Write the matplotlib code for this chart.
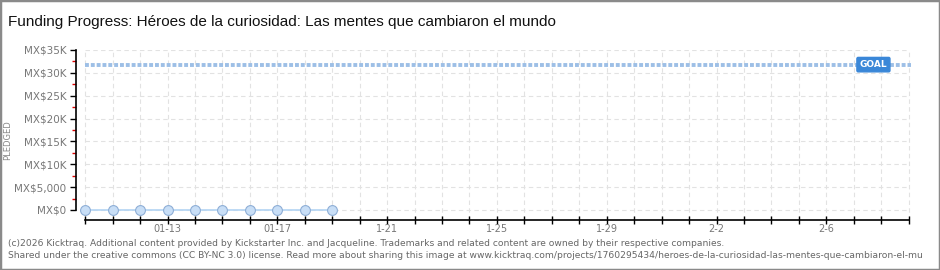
import matplotlib
matplotlib.use('Agg')
import matplotlib.pyplot as plt
import matplotlib.dates as mdates
import matplotlib.patches as mpatches
import matplotlib.transforms as mtransforms
import pandas as pd

# data
dates = ['2026-01-10', '2026-01-11', '2026-01-12', '2026-01-13', '2026-01-14',
         '2026-01-15', '2026-01-16', '2026-01-17', '2026-01-18', '2026-01-19']
pledged = [0, 0, 0, 0, 0, 0, 0, 0, 0, 0]
goal = 31800
axis_start = '2026-01-10'
axis_end = '2026-02-09'
label_dates = ['2026-01-13', '2026-01-17', '2026-01-21', '2026-01-25',
               '2026-01-29', '2026-02-02', '2026-02-06']
label_texts = ['01-13', '01-17', '1-21', '1-25', '1-29', '2-2', '2-6']
ytick_vals = [0, 5000, 10000, 15000, 20000, 25000, 30000, 35000]
ytick_texts = ['MX$0', 'MX$5,000', 'MX$10K', 'MX$15K', 'MX$20K', 'MX$25K', 'MX$30K', 'MX$35K']

title = 'Funding Progress: Héroes de la curiosidad: Las mentes que cambiaron el mundo'
footer1 = ('(c)2026 Kicktraq. Additional content provided by Kickstarter Inc. and Jacqueline. '
           'Trademarks and related content are owned by their respective companies.')
footer2 = ('Shared under the creative commons (CC BY-NC 3.0) license. Read more about sharing this image at '
           'www.kicktraq.com/projects/1760295434/heroes-de-la-curiosidad-las-mentes-que-cambiaron-el-mu')

#==============================================================================
x = pd.to_datetime(dates)
x0 = pd.to_datetime(axis_start)
x1 = pd.to_datetime(axis_end)
all_days = pd.date_range(x0, x1, freq='D')

fig = plt.figure(figsize=(9.4, 2.7), dpi=100)
fig.patch.set_facecolor('white')
ax = fig.add_axes([76 / 940, 50 / 270, (911 - 76) / 940, 170 / 270])

ax.set_xlim(x0 - pd.Timedelta(hours=8), x1 + pd.Timedelta(hours=2))
ax.set_ylim(-2200, 35000)

# grid
for d in all_days:
    ax.axvline(d, color='#e2e2e2', lw=0.8, ls=(0, (4, 3)), zorder=0)
for v in ytick_vals:
    ax.plot([x0, x1], [v, v], color='#e2e2e2', lw=0.8, ls=(0, (4, 3)), zorder=0)

# goal line
ax.plot([x0, x1 + pd.Timedelta(hours=2)], [goal, goal], color='#9dbfe6', lw=2.8,
        ls=(0, (1.0, 0.5)), zorder=2)
trans = mtransforms.blended_transform_factory(ax.transAxes, ax.transData)
ax.text(0.955, goal, 'GOAL', transform=trans, ha='center', va='center', fontsize=6.5,
        color='white', fontweight='bold', family='DejaVu Sans',
        bbox=dict(boxstyle='round,pad=0.3,rounding_size=0.15', fc='#3a87d8', ec='#3a87d8'),
        zorder=4)

# pledged line
ax.plot(x, pledged, color='#b3d4f3', lw=1.2, zorder=3)
ax.scatter(x, pledged, s=50, color='#c8def6', edgecolors='#8eaed6', linewidths=0.8, zorder=5)

# spines
for s in ['top', 'right']:
    ax.spines[s].set_visible(False)
ax.spines['left'].set_bounds(0, 35000)
ax.spines['left'].set_linewidth(1.2)
ax.spines['bottom'].set_bounds(mdates.date2num(x0), mdates.date2num(x1))
ax.spines['bottom'].set_linewidth(1.2)

ax.set_xticks(all_days)
ax.set_xticklabels([''] * len(all_days))
ax.tick_params(axis='x', direction='inout', length=6, width=1.0, color='black')
xlab_trans = mtransforms.blended_transform_factory(ax.transData, ax.transAxes)
for d, t in zip(pd.to_datetime(label_dates), label_texts):
    ax.text(d, -0.05, t, transform=xlab_trans, ha='center', va='center', fontsize=7,
            color='#777777')

ax.set_yticks(ytick_vals)
ax.set_yticklabels(ytick_texts, fontsize=7.5, color='#777777')
ax.set_yticks([2500 + 5000 * i for i in range(7)], minor=True)
ax.tick_params(axis='y', which='major', direction='out', length=4, width=1.0, color='black', pad=3)
ax.tick_params(axis='y', which='minor', direction='out', length=3, width=1.0, color='#dd0000')

fig.text(3 / 940, 130 / 270, 'PLEDGED', rotation=90, ha='left', va='center', fontsize=6,
         color='#888888')

fig.text(8 / 940, 1 - 22 / 270, title, ha='left', va='center', fontsize=11,
         family='Liberation Sans', color='#111111')
fig.text(8 / 940, 1 - 243 / 270, footer1, ha='left', va='center', fontsize=6.6, color='#666666')
fig.text(8 / 940, 1 - 255 / 270, footer2, ha='left', va='center', fontsize=6.6, color='#666666')

fig.patches.append(mpatches.Rectangle((0, 0), 1, 1, transform=fig.transFigure, fill=False,
                                      ec='#8a8a8a', lw=2.5, zorder=10))

plt.savefig('out.png', dpi=100)
